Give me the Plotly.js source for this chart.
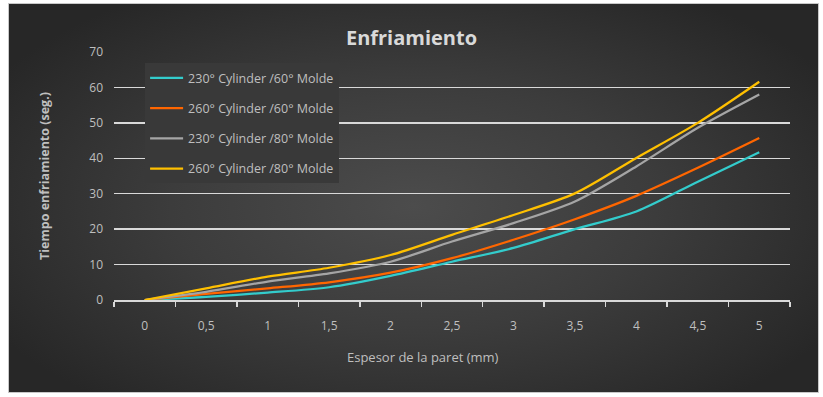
<!DOCTYPE html>
<html>
<head>
<meta charset="utf-8">
<script src="https://cdn.plot.ly/plotly-3.0.1.min.js"></script>
<style>
  html, body { margin: 0; padding: 0; background: #ffffff; }
  #wrap { position: relative; width: 823px; height: 397px; overflow: hidden; }
  #bg { position: absolute; left: 8px; top: 3px; width: 809px; height: 388px;
        border: 1px solid #c8c8c8;
        background: radial-gradient(ellipse 60% 65% at 50% 52%, #4c4c4c 0%, #3c3c3c 50%, #272727 100%); }
  #chart { position: absolute; left: 0; top: 0; width: 823px; height: 397px; }
</style>
</head>
<body>
<div id="wrap">
  <div id="bg"></div>
  <div id="chart"></div>
</div>
<script>
const categories = ["0", "0,5", "1", "1,5", "2", "2,5", "3", "3,5", "4", "4,5", "5"];
const seriesNames = ["230° Cylinder /60° Molde", "260° Cylinder /60° Molde", "230° Cylinder /80° Molde", "260° Cylinder /80° Molde"];
const cyl230mold60 = [0, 0.9, 2.1, 3.6, 6.8, 10.8, 14.7, 20, 25, 33.4, 41.7];
const cyl260mold60 = [0, 1.7, 3.3, 5, 7.7, 11.8, 17, 22.8, 29.4, 37.3, 45.7];
const cyl230mold80 = [0, 2.3, 5.2, 7.5, 10.8, 16.5, 21.7, 27.8, 37.7, 48.6, 58];
const cyl260mold80 = [0, 3.3, 6.6, 9.1, 12.7, 18.4, 24, 30.1, 40.1, 50, 61.6];
const yTicks = [0, 10, 20, 30, 40, 50, 60, 70];

const colors = ["#33CCCC", "#FF6600", "#A5A5A5", "#FFC000"];
const values = [cyl230mold60, cyl260mold60, cyl230mold80, cyl260mold80];

const traces = values.map((v, i) => ({
  type: "scatter",
  mode: "lines",
  x: categories,
  y: v,
  name: seriesNames[i],
  legendgroup: "g" + i,
  line: { color: colors[i], width: 2.25, shape: "spline", smoothing: 0.8 }
}));

const layout = {
  width: 823,
  height: 397,
  paper_bgcolor: "rgba(0,0,0,0)",
  plot_bgcolor: "rgba(0,0,0,0)",
  margin: { l: 114, r: 33, t: 52, b: 97 },
  font: { family: "Open Sans, sans-serif", color: "#bfbfbf" },
  title: {
    text: "<b>Enfriamiento</b>",
    font: { family: "Open Sans, sans-serif", size: 20, color: "#d9d9d9" },
    x: 0.5, xanchor: "center", y: 0.905, yanchor: "middle"
  },
  xaxis: {
    type: "category",
    range: [-0.5, 10.5],
    tickson: "boundaries",
    ticks: "outside",
    ticklen: 5,
    tickwidth: 1.5,
    tickcolor: "#d9d9d9",
    showline: true,
    linecolor: "#d9d9d9",
    linewidth: 1.5,
    showgrid: false,
    zeroline: false,
    tickfont: { size: 12, color: "#bfbfbf" },
    ticklabelstandoff: 14
  },
  yaxis: {
    range: [0, 70],
    tickvals: yTicks,
    ticktext: yTicks.map(String),
    showgrid: true,
    gridcolor: "#d9d9d9",
    gridwidth: 1.5,
    zeroline: false,
    showline: false,
    ticks: "",
    tickfont: { size: 12, color: "#bfbfbf" },
    ticklabelstandoff: 10,
    title: { text: "<b>Tiempo enfriamiento (seg.)</b>", font: { size: 12.5, color: "#bfbfbf" }, standoff: 36 }
  },
  annotations: [{
    text: "Espesor de la paret (mm)",
    xref: "paper", yref: "paper",
    x: 0.457, y: -0.23, xanchor: "center", yanchor: "middle",
    showarrow: false,
    font: { size: 13, color: "#bfbfbf" }
  }],
  showlegend: true,
  legend: {
    x: 0.046, xanchor: "left",
    y: 0.955, yanchor: "top",
    bgcolor: "#393939",
    borderwidth: 0,
    font: { size: 12.5, color: "#bfbfbf" },
    tracegroupgap: 11,
    itemwidth: 33
  }
};

Plotly.newPlot("chart", traces, layout, { displayModeBar: false, staticPlot: true });
</script>
</body>
</html>
